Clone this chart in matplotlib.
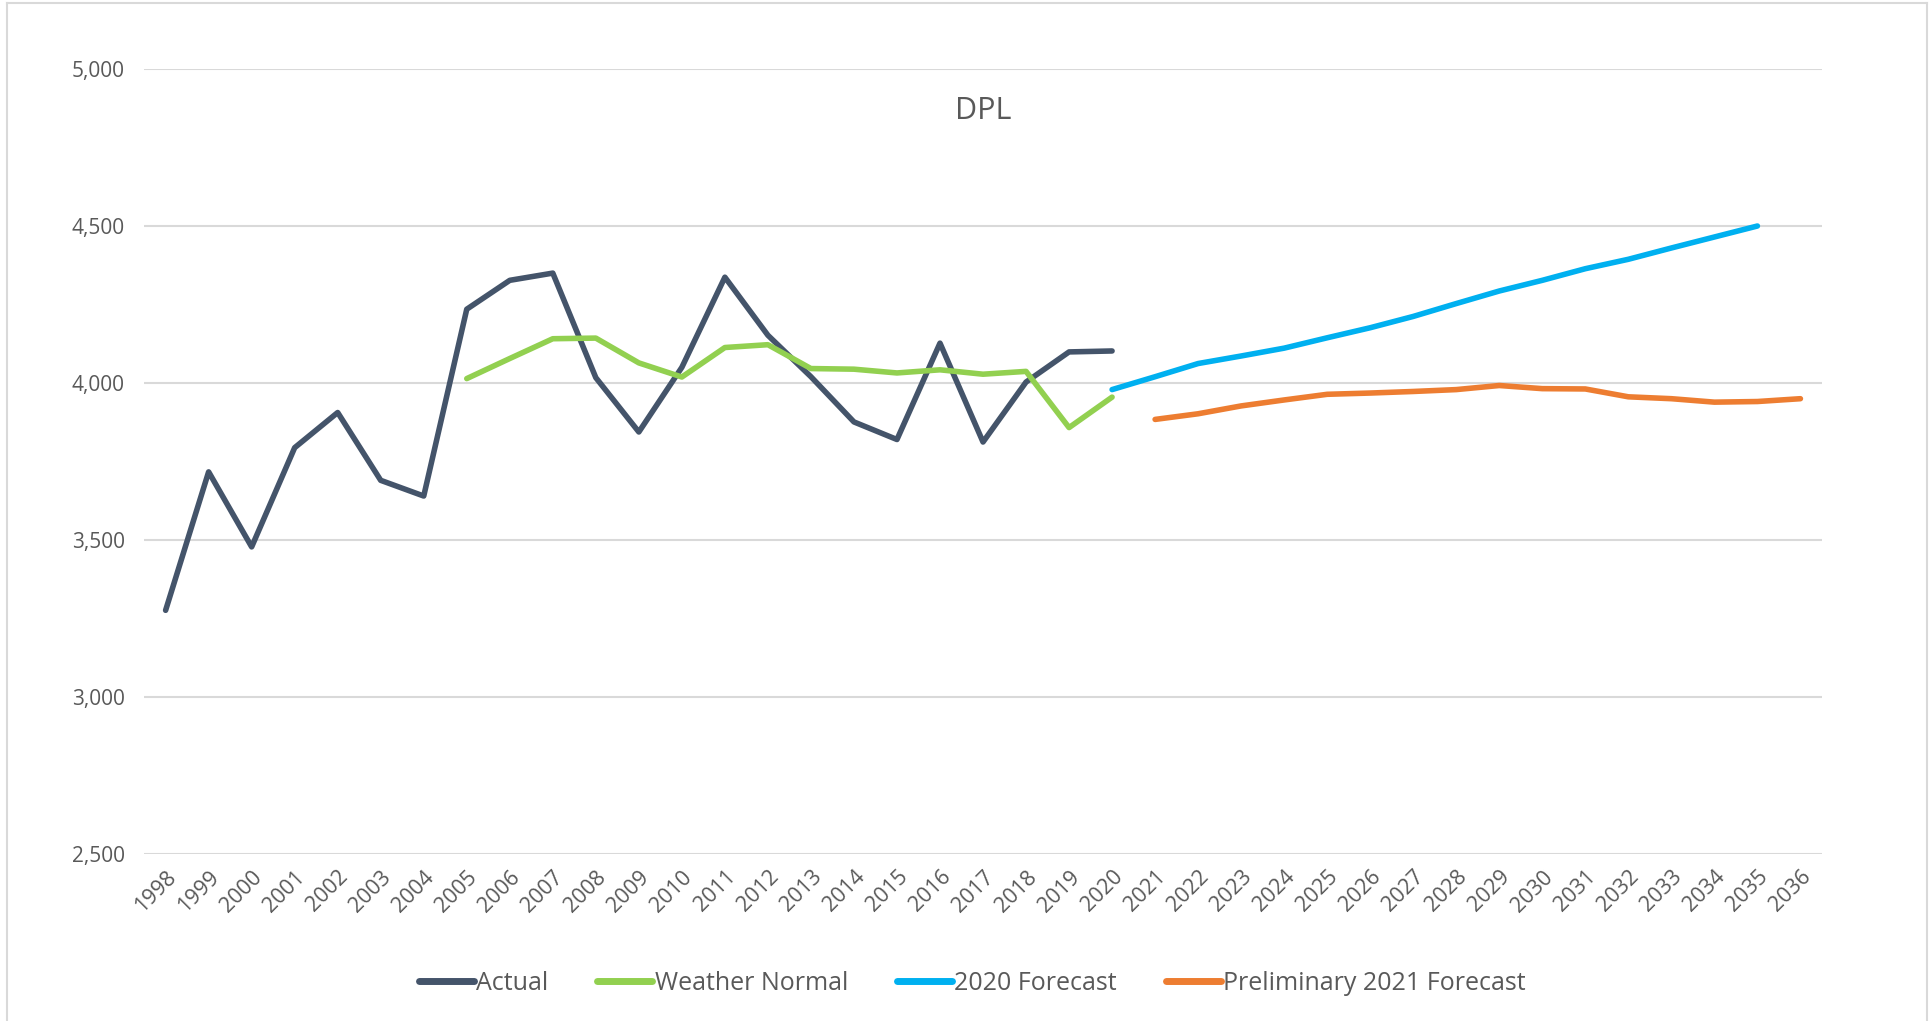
import matplotlib
matplotlib.use("Agg")
import matplotlib.pyplot as plt
from matplotlib.lines import Line2D

plt.rcParams['font.family'] = ['Open Sans', 'DejaVu Sans']

years = [str(y) for y in range(1998, 2037)]

actual_years = list(range(1998, 2021))
actual = [3276, 3717, 3478, 3794, 3906, 3690, 3640, 4235, 4327, 4350, 4017,
          3844, 4050, 4337, 4152, 4020, 3876, 3820, 4127, 3812, 4003, 4099, 4102]

wn_years = list(range(2005, 2021))
weather_normal = [4014, 4078, 4141, 4143, 4064, 4019, 4113, 4122, 4046, 4044,
                  4032, 4042, 4028, 4037, 3858, 3955]

f2020_years = list(range(2020, 2036))
forecast_2020 = [3979, 4020, 4062, 4086, 4111, 4144, 4176, 4212, 4253, 4293,
                 4327, 4364, 4394, 4430, 4465, 4500]

f2021_years = list(range(2021, 2037))
forecast_2021 = [3884, 3902, 3927, 3946, 3964, 3968, 3973, 3979, 3992, 3982,
                 3981, 3956, 3950, 3939, 3941, 3950]

yticks = [2500, 3000, 3500, 4000, 4500, 5000]

c_actual = '#44546A'
c_wn = '#92D050'
c_f20 = '#00B0F0'
c_f21 = '#ED7D31'
txt = '#595959'
grid = '#D9D9D9'

fig = plt.figure(figsize=(19.29, 10.21), dpi=100)
ax = fig.add_axes([0.0747, 0.1636, 0.8698, 0.7688])

def idx(yrs):
    return [y - 1998 for y in yrs]

lw = 4
ax.plot(idx(actual_years), actual, color=c_actual, lw=lw, solid_capstyle='round', solid_joinstyle='round', zorder=3)
ax.plot(idx(wn_years), weather_normal, color=c_wn, lw=lw, solid_capstyle='round', solid_joinstyle='round', zorder=4)
ax.plot(idx(f2020_years), forecast_2020, color=c_f20, lw=lw, solid_capstyle='round', solid_joinstyle='round', zorder=3)
ax.plot(idx(f2021_years), forecast_2021, color=c_f21, lw=lw, solid_capstyle='round', solid_joinstyle='round', zorder=3)

ax.set_xlim(-0.5, len(years) - 0.5)
ax.set_ylim(2500, 5000)
ax.set_yticks(yticks)
ax.set_yticklabels([f"{v:,}" for v in yticks])
ax.set_xticks(range(len(years)))
ax.set_xticklabels(years, rotation=45, ha='right', rotation_mode='anchor')
ax.tick_params(axis='both', length=0, colors=txt, labelsize=15)
ax.tick_params(axis='x', labelsize=15.5)
ax.tick_params(axis='y', pad=14)
ax.tick_params(axis='x', pad=9)
ax.yaxis.grid(True, color=grid, lw=1.5)
ax.set_axisbelow(True)
for s in ax.spines.values():
    s.set_visible(False)

ax.text(0.5, 0.947, 'DPL', transform=ax.transAxes, ha='center', va='center',
        fontsize=22, color=txt)

handles = [Line2D([], [], color=c, lw=5, solid_capstyle='round') for c in (c_actual, c_wn, c_f20, c_f21)]
labels = ['Actual', 'Weather Normal', '2020 Forecast', 'Preliminary 2021 Forecast']
fig.legend(handles, labels, loc='center', bbox_to_anchor=(0.504, 0.037), ncol=4,
           frameon=False, fontsize=18, labelcolor=txt, handlelength=2.2,
           handletextpad=0.1, columnspacing=1.95)

# chart frame
fig.add_artist(Line2D([7/1929, 7/1929], [0, 1 - 3/1021], transform=fig.transFigure, color=grid, lw=1.5))
fig.add_artist(Line2D([7/1929, 1927/1929], [1 - 3/1021, 1 - 3/1021], transform=fig.transFigure, color=grid, lw=1.5))
fig.add_artist(Line2D([1927/1929, 1927/1929], [0, 1 - 3/1021], transform=fig.transFigure, color=grid, lw=1.5))

fig.savefig('out.png', dpi=100, facecolor='white')
